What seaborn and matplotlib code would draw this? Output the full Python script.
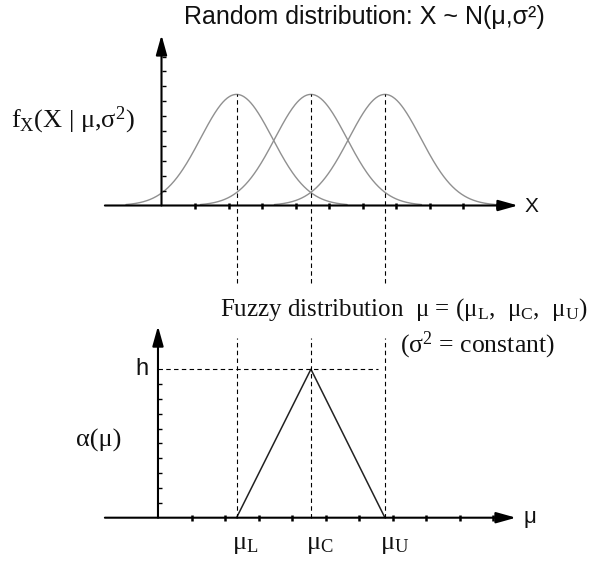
import numpy as np
import pandas as pd
import matplotlib
matplotlib.use("Agg")
import matplotlib.pyplot as plt
import seaborn as sns

# data (x in tick units, y of the top panel is a density, bottom is membership)
mu_names = ["L", "C", "U"]
mu_values = [2.24, 4.46, 6.67]
sigma = 1.07
alpha_values = [0.0, 1.0, 0.0]
x_ticks_top = [1, 2, 3, 4, 5, 6, 7, 8, 9, 10]
y_ticks_top = [0.05, 0.10, 0.15, 0.20, 0.25, 0.30, 0.35, 0.40, 0.45, 0.50]
x_ticks_bot = [0.9, 1.9, 2.9, 3.9, 4.9, 5.9, 6.9, 7.9, 8.9, 9.9]
y_ticks_bot = [0.1, 0.2, 0.3, 0.4, 0.5, 0.6, 0.7, 0.8, 0.9, 1.0]

sns.set_theme(style="white")
plt.rcParams["mathtext.fontset"] = "custom"
plt.rcParams["mathtext.rm"] = "Liberation Serif"
plt.rcParams["mathtext.it"] = "Liberation Serif:italic"
plt.rcParams["mathtext.bf"] = "Liberation Serif:bold"

W, H = 590, 567
fig = plt.figure(figsize=(W / 100, H / 100), dpi=100)
ax_top = fig.add_axes([0, 0, 1, 1])
ax_bot = fig.add_axes([0, 0, 1, 1], sharex=ax_top)
for ax in (ax_top, ax_bot):
    ax.set_axis_off()
    ax.patch.set_alpha(0)

# pixel layout -> data limits
px_x, x0 = 33.5, 161.5
ax_top.set_xlim(-x0 / px_x, (W - x0) / px_x)
py_top, y0_top = 298.0, 205.5
ax_top.set_ylim(-(H - y0_top) / py_top, y0_top / py_top)
py_bot, y0_bot = 148.5, 517.7
ax_bot.set_ylim(-(H - y0_bot) / py_bot, y0_bot / py_bot)

DASH = (0, (4, 3))
arrow = dict(arrowstyle="-|>,head_length=1.0,head_width=0.28", color="black",
             lw=1.5, mutation_scale=12, shrinkA=0, shrinkB=0)

# ---- top panel: three normal densities
rows = []
for name, m in zip(mu_names, mu_values):
    xs = np.linspace(m - 3.3, m + 3.3, 300)
    fx = np.exp(-0.5 * ((xs - m) / sigma) ** 2) / (sigma * np.sqrt(2 * np.pi))
    rows.append(pd.DataFrame({"x": xs, "f": fx, "curve": name}))
curves = pd.concat(rows, ignore_index=True)
sns.lineplot(data=curves, x="x", y="f", hue="curve", palette=["#909090"] * 3,
             linewidth=1.0, legend=False, estimator=None, ax=ax_top)

peak = 1 / (sigma * np.sqrt(2 * np.pi))
ax_top.vlines(mu_values, -0.26, peak, colors="black", linestyles=DASH, lw=0.8)

ax_top.annotate("", xy=(10.64, 0), xytext=(-1.69, 0), arrowprops=arrow)
ax_top.annotate("", xy=(0, 0.572), xytext=(0, 0), arrowprops=arrow)
ax_top.plot(x_ticks_top, [0] * len(x_ticks_top), ls="none", marker="|",
            ms=4.5, mew=1.8, color="black")
ax_top.hlines(y_ticks_top, 0, 0.12, colors="black", lw=1)

# ---- bottom panel: triangular fuzzy number
sns.lineplot(x=mu_values, y=alpha_values, sort=False, estimator=None,
             color="#222222", linewidth=1.1, ax=ax_bot)
ax_bot.vlines(mu_values, 0, 1.21, colors="black", linestyles=DASH, lw=0.8)
ax_bot.hlines(1.0, -0.105, 6.46, colors="black", linestyles=DASH, lw=0.8)

ax_bot.annotate("", xy=(10.58, 0), xytext=(-1.69, 0), arrowprops=arrow)
ax_bot.annotate("", xy=(-0.105, 1.29), xytext=(-0.105, 0), arrowprops=arrow)
ax_bot.plot(x_ticks_bot, [0] * len(x_ticks_bot), ls="none", marker="|",
            ms=4.5, mew=1.8, color="black")
ax_bot.hlines(y_ticks_bot[:-1], -0.105, 0.015, colors="black", lw=1)

# ---- texts
serif = "Liberation Serif"
sans = "Liberation Sans"
ink = "#111111"


def ftext(x, y, s, **kw):
    fig.text(x / W, 1 - y / H, s, color=ink, va="center", **kw)


ftext(364, 17, "Random distribution: X ~ N(μ,σ²)", family=sans, size=18, ha="center")
ftext(73, 120, r"f$_\mathrm{X}$(X | μ,σ$^\mathrm{2}$)", family=serif, size=19, ha="center")
ftext(531, 206, "X", family=sans, size=15, ha="center")
ftext(588, 310, r"Fuzzy distribution  μ = (μ$_\mathrm{L}$,  μ$_\mathrm{C}$,  μ$_\mathrm{U}$)",
      family=serif, size=18, ha="right")
ftext(555, 345, r"(σ$^\mathrm{2}$ = constant)", family=serif, size=18.5, ha="right")
ftext(141.5, 369, "h", family=sans, size=17, ha="center")
ftext(99, 440, "α(μ)", family=serif, size=19, ha="center")
ftext(530, 518, "μ", family=sans, size=16, ha="center")

for name, m in zip(mu_names, mu_values):
    ax_bot.annotate(r"μ$_\mathrm{%s}$" % name, xy=(m, 0), xytext=(-5, -27),
                    textcoords="offset pixels", ha="left", va="center",
                    family=serif, size=19, color=ink)

fig.savefig("out.png", dpi=100)
